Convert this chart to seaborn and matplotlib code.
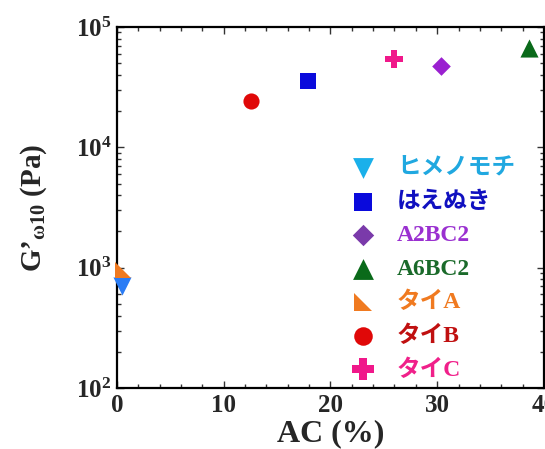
import matplotlib
matplotlib.use("Agg")
import matplotlib.pyplot as plt
from matplotlib.font_manager import FontProperties
from matplotlib.ticker import MultipleLocator, LogLocator
import seaborn as sns

sns.set_style("ticks")
plt.rcParams['font.family'] = ['Liberation Serif', 'Noto Sans CJK JP']
plt.rcParams['font.weight'] = 'bold'
plt.rcParams['mathtext.fontset'] = 'custom'
plt.rcParams['mathtext.rm'] = 'Liberation Serif:bold'
plt.rcParams['mathtext.bf'] = 'Liberation Serif:bold'
plt.rcParams['mathtext.it'] = 'Liberation Serif:bold'

# samples
names = ["ヒメノモチ", "はえぬき", "A2BC2", "A6BC2", "タイA", "タイB", "タイC"]
ac = [0.45, 17.9, 30.4, 38.6, 0.6, 12.6, 26.0]          # AC (%)
g10 = [700, 35500, 47400, 66900, 960, 24300, 54200]     # G'w10 (Pa)

marker_colors = ["#2a7cf5", "#0a0adc", "#9a20d0", "#0a6a1a", "#f07a20", "#e00808", "#f0188a"]
legend_marker_colors = ["#1ab0ea", "#0a0adc", "#7a3aaa", "#0a6a1a", "#f07a20", "#e00808", "#f0188a"]
text_colors = ["#20a8e0", "#1010c0", "#9a30d0", "#1a6a2a", "#f07a20", "#c01010", "#f0208a"]
tri_corner = [(-1, 1), (-1, -1), (1, -1)]
markers = ["v", "s", "D", "^", tri_corner, "o", "P"]
sizes = [170, 130, 90, 170, 120, 135, 180]

fig, ax = plt.subplots(figsize=(5.45, 4.49), dpi=100)
fig.subplots_adjust(left=0.2147, right=0.998, bottom=0.1359, top=0.9399)

for i in range(len(names)):
    sns.scatterplot(x=[ac[i]], y=[g10[i]], ax=ax, color=marker_colors[i],
                    marker=markers[i], s=sizes[i], linewidth=0, label=names[i],
                    clip_on=False, zorder=3)

ax.set_yscale('log')
ax.set_xlim(0, 40)
ax.set_ylim(1e2, 1e5)
ax.xaxis.set_major_locator(MultipleLocator(10))
ax.xaxis.set_minor_locator(MultipleLocator(2))
ax.yaxis.set_major_locator(LogLocator(base=10))
ax.yaxis.set_minor_locator(LogLocator(base=10, subs=range(2, 10)))

ax.tick_params(which='both', direction='in', top=True, right=True, width=1, color='#333333')
ax.tick_params(which='major', length=5, labelsize=18, pad=4)
ax.tick_params(which='minor', length=3)
for s in ax.spines.values():
    s.set_linewidth(1.6)
    s.set_color('black')

ax.set_xlabel("AC (%)", fontsize=23, fontweight='bold', labelpad=2)
ax.set_ylabel(r"G’$_{\mathbf{\omega 10}}$ (Pa)", fontsize=21, fontweight='bold', labelpad=19)

leg = ax.legend(loc='upper left', bbox_to_anchor=(0.548, 0.638), frameon=False,
                prop=FontProperties(family=['Liberation Serif', 'Noto Sans CJK JP'],
                                    weight='bold', size=17),
                labelcolor=text_colors, handlelength=1.0, handletextpad=0.95,
                labelspacing=0.51, borderpad=0, borderaxespad=0, markerscale=1.15)
for h, c in zip(leg.legend_handles, legend_marker_colors):
    h.set_facecolor(c)
    h.set_edgecolor(c)

fig.savefig("out.png", dpi=100)
